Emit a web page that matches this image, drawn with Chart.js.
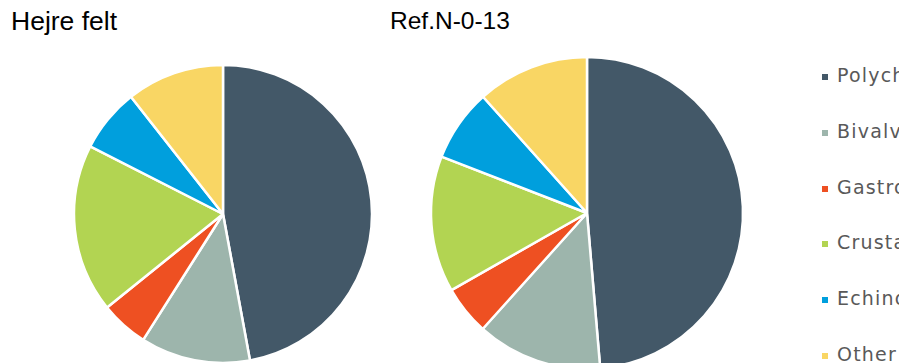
<!DOCTYPE html>
<html>
<head>
<meta charset="utf-8">
<script src="https://cdn.jsdelivr.net/npm/chart.js@4/dist/chart.umd.min.js"></script>
<style>
  html, body { margin: 0; padding: 0; background: #fff; }
  body { width: 899px; height: 363px; overflow: hidden; position: relative; }
  .title { position: absolute; font-family: "Liberation Sans", Arial, sans-serif; color: #000; line-height: 1; white-space: nowrap; }
  .pie { position: absolute; }
  #legend { position: absolute; left: 822px; top: 64px; font-family: "DejaVu Sans", Verdana, sans-serif; font-size: 19px; letter-spacing: 1.2px; color: #595959; white-space: nowrap; }
  #legend .item { height: 55.8px; display: flex; align-items: flex-start; }
  #legend .swatch { width: 6px; height: 6px; margin-top: 10px; margin-right: 9px; flex: none; }
</style>
</head>
<body>
<div class="title" style="left:11px; top:8px; font-size:26.5px;">Hejre felt</div>
<div class="title" style="left:390px; top:9px; font-size:24.5px;">Ref.N-0-13</div>
<div class="pie" id="wrapA"><canvas id="pieA"></canvas></div>
<div class="pie" id="wrapB"><canvas id="pieB"></canvas></div>
<div id="legend"></div>
<script>
// Taxonomic groups and their share (%) of individuals at each station
const groups = ["Polychaeta", "Bivalvia", "Gastropoda", "Crustacea", "Echinodermata", "Other"];
const hejreFelt = [47.1, 11.9, 5.2, 18.3, 6.9, 10.6];
const refN013 = [48.6, 13.0, 5.1, 14.1, 7.5, 11.6];
const groupColors = ["#435868", "#9db5ac", "#ee5022", "#b2d452", "#009fdd", "#f9d664"];

function makePie(wrapId, canvasId, values, cx, cy, r) {
  const pad = 4;
  const wrap = document.getElementById(wrapId);
  wrap.style.left = (cx - r - pad) + "px";
  wrap.style.top = (cy - r - pad) + "px";
  wrap.style.width = (2 * r + 2 * pad) + "px";
  wrap.style.height = (2 * r + 2 * pad) + "px";
  new Chart(document.getElementById(canvasId), {
    type: "pie",
    data: {
      labels: groups,
      datasets: [{
        data: values,
        backgroundColor: groupColors,
        borderColor: "#ffffff",
        borderWidth: 2.5
      }]
    },
    options: {
      responsive: true,
      maintainAspectRatio: false,
      animation: false,
      radius: r,
      layout: { padding: 0 },
      plugins: { legend: { display: false }, tooltip: { enabled: false } }
    }
  });
}

makePie("wrapA", "pieA", hejreFelt, 223, 214, 149);
makePie("wrapB", "pieB", refN013, 587, 213, 156);

// Legend for both pies
const legend = document.getElementById("legend");
groups.forEach((name, i) => {
  const item = document.createElement("div");
  item.className = "item";
  const sw = document.createElement("span");
  sw.className = "swatch";
  sw.style.background = groupColors[i];
  const tx = document.createElement("span");
  tx.textContent = name;
  item.appendChild(sw);
  item.appendChild(tx);
  legend.appendChild(item);
});
</script>
</body>
</html>
